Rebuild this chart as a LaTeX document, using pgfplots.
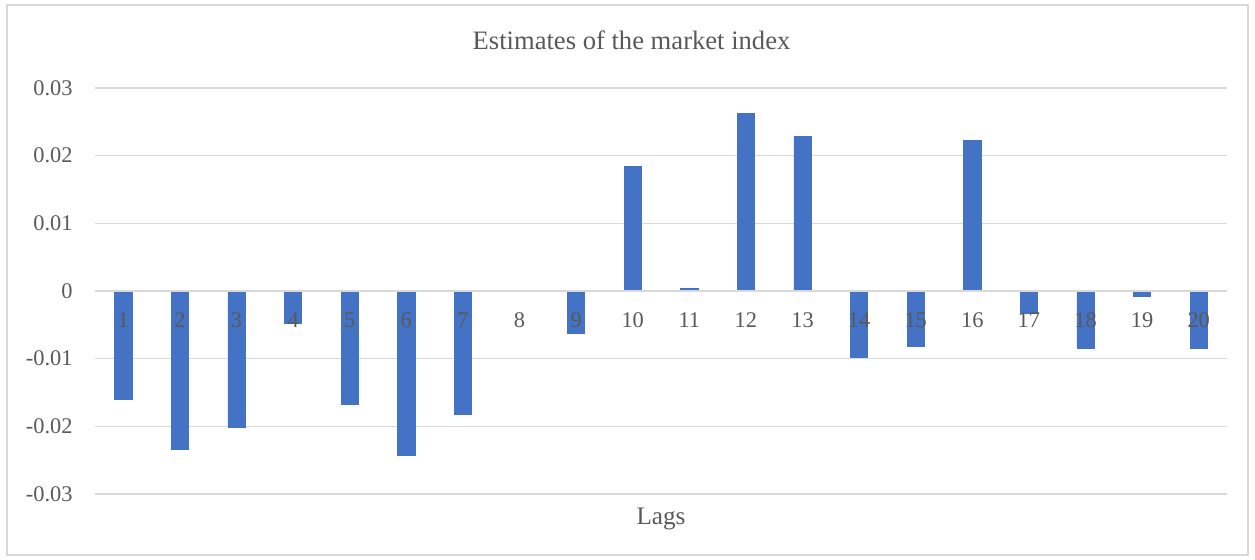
\documentclass[border=0pt]{standalone}
\usepackage{pgfplots}
\pgfplotsset{compat=1.18}
\usepackage{fontspec}
\setmainfont{Liberation Serif}
\definecolor{barblue}{HTML}{4472C4}
\definecolor{txtgray}{HTML}{595959}
\definecolor{gridgray}{HTML}{D9D9D9}
\begin{document}
\begin{tikzpicture}
\path (0,0) rectangle (627.5pt,280pt);
\draw[gridgray, line width=1pt] (3.5pt,2.5pt) rectangle (624pt,277.5pt);
\begin{axis}[
  set layers,
  at={(47.5pt,33pt)}, anchor=south west,
  scale only axis, width=566pt, height=203pt,
  xmin=0.5, xmax=20.5, ymin=-0.03, ymax=0.03,
  axis x line*=middle, axis y line*=left,
  x axis line style={gridgray, line width=0.75pt},
  y axis line style={draw=none},
  major tick length=0pt,
  scaled y ticks=false,
  xtick={1,...,20},
  xticklabels={1,2,3,4,5,6,7,8,9,10,11,12,13,14,15,16,17,18,19,20},
  ytick={-0.03,-0.02,-0.01,0,0.01,0.02,0.03},
  yticklabels={-0.03,-0.02,-0.01,0,0.01,0.02,0.03},
  ymajorgrids, major grid style={gridgray, line width=0.75pt},
  xticklabel style={font=\fontsize{11.2pt}{13pt}\selectfont, text=txtgray, inner sep=0pt, anchor=center, yshift=-14.5pt},
  yticklabel style={font=\fontsize{11.2pt}{13pt}\selectfont, text=txtgray, inner sep=0pt, anchor=east, xshift=-11pt},
  clip=false,
]
\addplot[ybar, bar width=8.65pt, fill=barblue, draw=barblue, line width=0.3pt, on layer=axis ticks] coordinates {
(1,-0.0160) (2,-0.0234) (3,-0.0201) (4,-0.0048) (5,-0.0167)
(6,-0.0243) (7,-0.0182) (8,-0.0001) (9,-0.0063) (10,0.0184)
(11,0.0004) (12,0.0262) (13,0.0229) (14,-0.0098) (15,-0.0082)
(16,0.0222) (17,-0.0033) (18,-0.0084) (19,-0.0008) (20,-0.0085)
};
\end{axis}
\node[anchor=base, text=txtgray, font=\fontsize{13.3pt}{16pt}\selectfont] at (315.75pt,255pt) {Estimates of the market index};
\node[anchor=base, text=txtgray, font=\fontsize{12.6pt}{15pt}\selectfont] at (330.5pt,17.5pt) {Lags};
\end{tikzpicture}
\end{document}
